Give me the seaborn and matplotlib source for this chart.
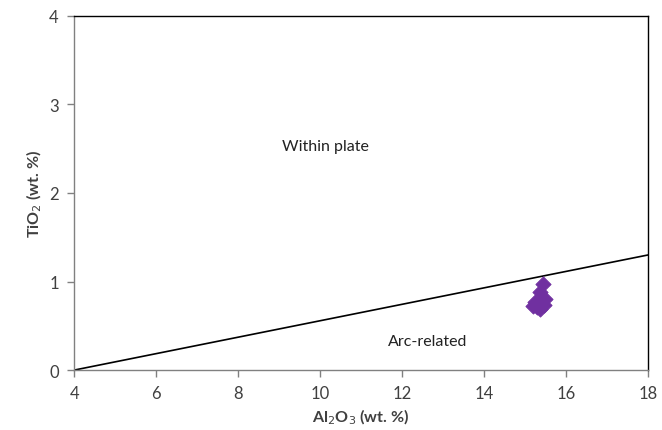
import matplotlib
matplotlib.use("Agg")
import matplotlib.pyplot as plt
import seaborn as sns
import pandas as pd

al2o3 = [15.44, 15.37, 15.49, 15.24, 15.37, 15.20, 15.45, 15.30]
tio2 = [0.97, 0.88, 0.80, 0.77, 0.69, 0.72, 0.74, 0.71]
line_x = [4, 18]
line_y = [0.0, 1.3]
x_ticks = [4, 6, 8, 10, 12, 14, 16, 18]
y_ticks = [0, 1, 2, 3, 4]

sns.set_style("white")
plt.rcParams['font.family'] = ['Lato', 'DejaVu Sans']

fig = plt.figure(figsize=(6.62, 4.31), dpi=100)
ax = fig.add_axes([0.112, 0.139, 0.867, 0.822])

df = pd.DataFrame({"x": al2o3, "y": tio2})
sns.lineplot(x=line_x, y=line_y, ax=ax, color="black", linewidth=1.2)
sns.scatterplot(data=df, x="x", y="y", ax=ax, marker="D", s=60,
                color="#7030A0", edgecolor="#7030A0", zorder=3)

ax.set_xlim(4, 18)
ax.set_ylim(0, 4)
ax.set_xticks(x_ticks)
ax.set_yticks(y_ticks)
ax.tick_params(axis='both', labelsize=12, direction='out',
               length=5, width=1, bottom=True, left=True, pad=6,
               colors="#808080", labelcolor="#404040")
for s in ['left', 'bottom']:
    ax.spines[s].set_color("#808080")
    ax.spines[s].set_linewidth(1)
for s in ['top', 'right']:
    ax.spines[s].set_color("black")
    ax.spines[s].set_linewidth(1)

ax.set_xlabel("Al$_2$O$_3$ (wt. %)", fontsize=11.5, fontweight='bold', color="#404040")
ax.set_ylabel("TiO$_2$ (wt. %)", fontsize=11.5, fontweight='bold', color="#404040")

ax.text(10.12, 2.53, "Within plate", fontsize=11.5, ha='center', va='center', color="#222222")
ax.text(12.63, 0.33, "Arc-related", fontsize=11.5, ha='center', va='center', color="#222222")

fig.savefig("out.png", dpi=100)
